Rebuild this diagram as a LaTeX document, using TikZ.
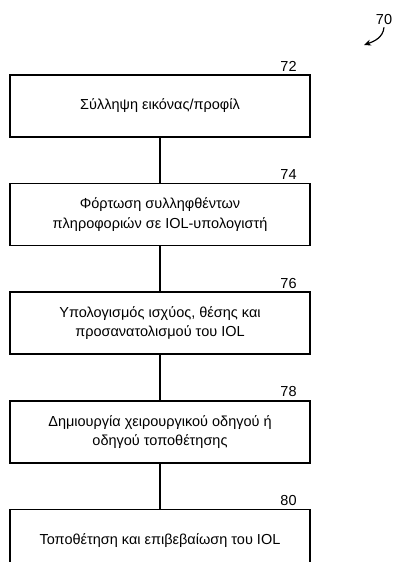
\documentclass[tikz,border=0pt]{standalone}
\usepackage{fontspec}
\setmainfont{Liberation Sans}
\usetikzlibrary{positioning, arrows.meta}

\begin{document}
\begin{tikzpicture}[x=1pt, y=1pt,
      schritt/.style={draw=black, line width=1.6pt, fill=white, text=black,
        align=center, font=\fontsize{14.5}{19.5}\selectfont,
        minimum width=300pt, minimum height=62pt, inner sep=2pt},
      nummer/.style={text=black, font=\fontsize{14.5}{16}\selectfont, inner sep=0pt},
      linie/.style={black, line width=1.6pt},
      pfeil/.style={-{Stealth[length=7pt, width=6pt]}, black, line width=1.2pt}]
    \clip (0,0) rectangle (393,-562);
    \node[schritt] at (160,-106) (erfassung) {Σύλληψη εικόνας/προφίλ};
    \node[schritt, below=45pt of erfassung] (laden)
      {Φόρτωση συλληφθέντων\\πληροφοριών σε IOL-υπολογιστή};
    \node[schritt, below=45pt of laden] (berechnung)
      {Υπολογισμός ισχύος, θέσης και\\προσανατολισμού του IOL};
    \node[schritt, below=45pt of berechnung] (fuehrung)
      {Δημιουργία χειρουργικού οδηγού ή\\οδηγού τοποθέτησης};
    \node[schritt, below=45pt of fuehrung] (einsetzen)
      {Τοποθέτηση και επιβεβαίωση του IOL};
    \draw[linie] (erfassung) -- (laden);
    \draw[linie] (laden) -- (berechnung);
    \draw[linie] (berechnung) -- (fuehrung);
    \draw[linie] (fuehrung) -- (einsetzen);
    % Bezugszeichen
    \node[nummer, above left=3pt and 14pt of erfassung.north east] (n72) {72};
    \node[nummer, above left=3pt and 14pt of laden.north east] (n74) {74};
    \node[nummer, above left=3pt and 14pt of berechnung.north east] (n76) {76};
    \node[nummer, above left=3pt and 14pt of fuehrung.north east] (n78) {78};
    \node[nummer, above left=3pt and 14pt of einsetzen.north east] (n80) {80};
    \node[nummer] at (384,-20) (n70) {70};
    \coordinate (z70) at (364,-45);
    \draw[pfeil] ([yshift=-2pt]n70.south) to[out=-95, in=20] (z70);
  \end{tikzpicture}
\end{document}
